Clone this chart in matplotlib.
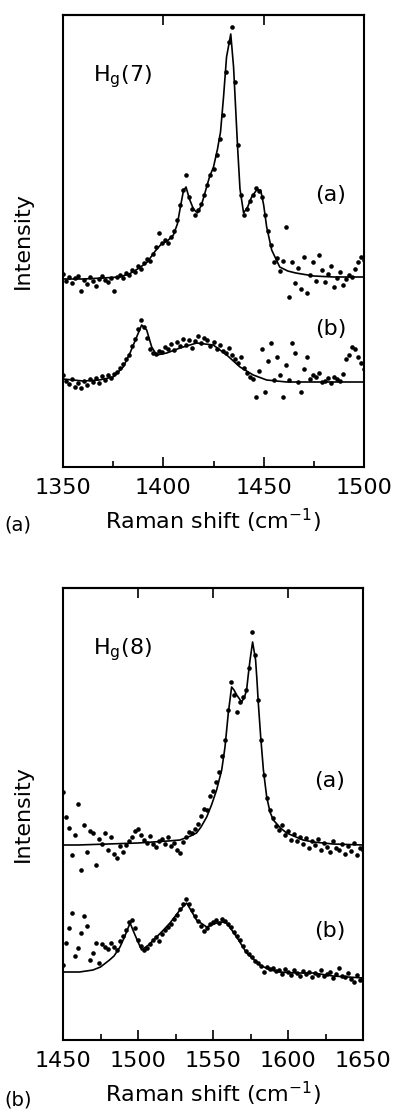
import matplotlib
matplotlib.use("Agg")
import matplotlib.pyplot as plt
from matplotlib.ticker import MultipleLocator, FixedLocator

plt.rcParams['font.family'] = ['DejaVu Sans']
plt.rcParams['mathtext.fontset'] = 'dejavusans'

# ---- H_g(7): measured channels (cm^-1) shared by both spectra ----
hg7_x = [1350.0, 1351.5, 1353.0, 1354.5, 1356.0, 1357.5, 1359.0, 1360.5, 1362.0, 1363.5,
         1365.0, 1366.5, 1368.0, 1369.5, 1371.0, 1372.5, 1374.0, 1375.5, 1377.0, 1378.5,
         1380.0, 1381.5, 1383.0, 1384.5, 1386.0, 1387.5, 1389.0, 1390.5, 1392.0, 1393.5,
         1395.0, 1396.5, 1398.0, 1399.5, 1401.0, 1402.5, 1404.0, 1405.5, 1407.0, 1408.5,
         1410.0, 1411.5, 1413.0, 1414.5, 1416.0, 1417.5, 1419.0, 1420.5, 1422.0, 1423.5,
         1425.0, 1426.5, 1428.0, 1429.5, 1431.0, 1432.5, 1434.0, 1435.5, 1437.0, 1438.5,
         1440.0, 1441.5, 1443.0, 1444.5, 1446.0, 1447.5, 1449.0, 1450.5, 1452.0, 1453.5,
         1455.0, 1456.5, 1458.0, 1459.5, 1461.0, 1462.5, 1464.0, 1465.5, 1467.0, 1468.5,
         1470.0, 1471.5, 1473.0, 1474.5, 1476.0, 1477.5, 1479.0, 1480.5, 1482.0, 1483.5,
         1485.0, 1486.5, 1488.0, 1489.5, 1491.0, 1492.5, 1494.0, 1495.5, 1497.0, 1498.5,
         1500.0]

hg7_a = [193, 186, 190, 184, 189, 191, 176, 187, 183, 190,
         186, 181, 188, 191, 187, 185, 189, 176, 190, 192,
         189, 194, 192, 197, 195, 201, 198, 204, 208, 206,
         213, 220, 234, 224, 227, 224, 230, 236, 247, 262,
         277, 292, 270, 258, 252, 257, 263, 272, 282, 292,
         298, 312, 328, 352, 395, 425, 440, 385, 322, 272,
         252, 258, 266, 272, 279, 276, 270, 252, 236, 222,
         205, 209, 196, 206, 240, 170, 205, 184, 199, 178,
         210, 174, 192, 205, 186, 212, 197, 185, 193, 201,
         180, 189, 195, 182, 188, 192, 190, 198, 205, 210,
         207]

hg7_b = [92, 86, 83, 88, 80, 84, 79, 86, 82, 88,
         85, 89, 84, 91, 87, 92, 89, 93, 95, 99,
         103, 108, 112, 121, 128, 138, 147, 140, 129, 118,
         114, 113, 116, 115, 120, 118, 123, 117, 125, 121,
         128, 122, 127, 119, 126, 131, 124, 129, 127, 121,
         125, 118, 122, 116, 114, 119, 112, 108, 104, 110,
         99, 94, 90, 88, 70, 96, 118, 75, 106, 124,
         87, 110, 92, 70, 102, 87, 124, 114, 85, 75,
         98, 110, 88, 92, 90, 94, 85, 86, 89, 84,
         90, 88, 86, 93, 108, 112, 120, 118, 110, 104,
         98]

# fitted curves for H_g(7)
hg7_fit_a_x = [1350, 1360, 1370, 1378, 1383, 1388, 1392, 1396, 1399, 1402, 1405, 1407,
               1408.5, 1410, 1411.3, 1413, 1415, 1417, 1419, 1421, 1423, 1425, 1427,
               1428.5, 1430, 1431.5, 1433.6, 1435, 1436, 1437, 1438.2, 1440, 1442, 1444,
               1446.5, 1448.5, 1450, 1451.5, 1454, 1458, 1462, 1466, 1475, 1485, 1500]
hg7_fit_a_y = [188, 188, 189, 190, 193, 199, 205, 216, 223, 226, 232, 243,
               260, 276, 280, 268, 258, 254, 262, 276, 290, 300, 318,
               335, 370, 410, 433, 400, 360, 320, 278, 254, 260, 270,
               277, 277, 262, 240, 217, 200, 196, 194, 191, 190, 190]

hg7_fit_b_x = [1350, 1360, 1368, 1375, 1380, 1383.4, 1386.7, 1389.2, 1391.7, 1394.2,
               1396.7, 1401.7, 1408.3, 1416.6, 1424.9, 1431.6, 1438.2, 1444.8, 1451.5,
               1461.5, 1500]
hg7_fit_b_y = [88, 86, 87, 90, 100, 114, 130, 142, 137, 120,
               112, 114, 119, 124, 122, 112, 100, 92, 87,
               85, 85]

# ---- H_g(8): measured channels (cm^-1) ----
hg8_x = [1450, 1452, 1454, 1456, 1458, 1460, 1462, 1464, 1466, 1468,
         1470, 1472, 1474, 1476, 1478, 1480, 1482, 1484, 1486, 1488,
         1490, 1492, 1494, 1496, 1498, 1500, 1502, 1504, 1506, 1508,
         1510, 1512, 1514, 1516, 1518, 1520, 1522, 1524, 1526, 1528,
         1530, 1532, 1534, 1536, 1538, 1540, 1542, 1544, 1546, 1548,
         1550, 1552, 1554, 1556, 1558, 1560, 1562, 1564, 1566, 1568,
         1570, 1572, 1574, 1576, 1578, 1580, 1582, 1584, 1586, 1588,
         1590, 1592, 1594, 1596, 1598, 1600, 1602, 1604, 1606, 1608,
         1610, 1612, 1614, 1616, 1618, 1620, 1622, 1624, 1626, 1628,
         1630, 1632, 1634, 1636, 1638, 1640, 1642, 1644, 1646, 1648,
         1650]

hg8_a = [248, 223, 212, 185, 205, 236, 170, 215, 188, 209,
         207, 175, 201, 196, 207, 190, 203, 186, 182, 194,
         188, 195, 199, 203, 209, 211, 205, 200, 197, 204,
         196, 193, 199, 201, 196, 203, 194, 197, 190, 187,
         198, 203, 208, 207, 211, 216, 224, 231, 230, 244,
         249, 258, 268, 284, 300, 330, 358, 345, 328, 338,
         343, 350, 372, 408, 385, 340, 300, 265, 242, 230,
         222, 214, 210, 215, 205, 209, 200, 206, 199, 203,
         196, 202, 192, 199, 195, 201, 190, 197, 193, 188,
         199, 192, 190, 196, 186, 194, 189, 197, 185, 192,
         190]

hg8_b = [75, 97, 112, 127, 84, 92, 107, 124, 114, 80,
         87, 97, 77, 96, 93, 91, 97, 93, 90, 99,
         104, 110, 118, 120, 112, 100, 94, 90, 92, 96,
         100, 103, 99, 106, 110, 113, 116, 121, 125, 131,
         136, 141, 136, 130, 124, 119, 114, 109, 112, 116,
         118, 120, 117, 121, 119, 116, 113, 108, 104, 100,
         94, 89, 86, 83, 79, 77, 74, 68, 73, 71,
         72, 69, 70, 66, 71, 68, 65, 70, 67, 64,
         69, 66, 68, 63, 67, 65, 70, 64, 66, 68,
         62, 66, 72, 64, 63, 67, 61, 58, 65, 60,
         62]

hg8_fit_a_x = [1450, 1460, 1480, 1500, 1520, 1528, 1535, 1539, 1542, 1545.8, 1549,
               1552.4, 1555.8, 1558, 1560.2, 1562.4, 1564, 1565.8, 1569.1, 1571, 1572.4,
               1573.5, 1574.7, 1576.4, 1578.4, 1579.3, 1580.2, 1581.8, 1583.6, 1585.8,
               1588, 1590.2, 1595, 1599.1, 1610, 1617, 1630, 1650]
hg8_fit_a_y = [195, 195, 196, 197, 199, 200, 204, 207, 213, 223, 235,
               250, 270, 293, 327, 353, 350, 345, 338, 343, 350,
               365, 380, 398, 380, 360, 337, 303, 270, 243,
               228, 220, 212, 207, 200, 198, 196, 195]

hg8_fit_b_x = [1450, 1461, 1470, 1475, 1481, 1484, 1488, 1491, 1494.7, 1498, 1502.4,
               1507, 1512.4, 1517, 1521.3, 1528, 1532.4, 1536, 1539, 1545.8, 1552.4,
               1556, 1559, 1562, 1565.8, 1572.4, 1581.3, 1588, 1594.7, 1605, 1616.9,
               1630, 1650]
hg8_fit_b_y = [68, 68, 70, 73, 80, 84, 93, 103, 117, 105, 90,
               95, 103, 110, 117, 130, 137, 128, 120, 113, 117,
               118, 117, 111, 103, 87, 75, 70, 68, 67, 67,
               64, 62]

W, H = 396, 1117
fig = plt.figure(figsize=(W / 100, H / 100), dpi=100)
ax1 = fig.add_axes([63 / W, 1 - 467 / H, 301 / W, 452 / H])
ax2 = fig.add_axes([63 / W, 1 - 1040 / H, 300 / W, 452 / H])

panels = [
    (ax1, hg7_x, hg7_a, hg7_b, hg7_fit_a_x, hg7_fit_a_y, hg7_fit_b_x, hg7_fit_b_y,
     (1350, 1500), [1400, 1450], 'H$_\\mathregular{g}$(7)', 0.602, 0.305),
    (ax2, hg8_x, hg8_a, hg8_b, hg8_fit_a_x, hg8_fit_a_y, hg8_fit_b_x, hg8_fit_b_y,
     (1450, 1650), [1500, 1550, 1600], 'H$_\\mathregular{g}$(8)', 0.573, 0.241),
]

for (ax, x, ya, yb, fax, fay, fbx, fby, xlim, top_ticks, name, ya_lab, yb_lab) in panels:
    ax.plot(x, ya, 'o', color='black', ms=3.3, mew=0, zorder=3)
    ax.plot(x, yb, 'o', color='black', ms=3.3, mew=0, zorder=3)
    ax.plot(fax, fay, '-', color='black', lw=1.2, zorder=2)
    ax.plot(fbx, fby, '-', color='black', lw=1.2, zorder=2)

    ax.set_xlim(*xlim)
    ax.set_ylim(0, 452)
    ax.set_yticks([])
    ax.xaxis.set_major_locator(MultipleLocator(50))
    ax.xaxis.set_minor_locator(MultipleLocator(25))
    ax.tick_params(axis='x', which='major', direction='in', length=7, width=1.2,
                   labelsize=16, pad=8)
    ax.tick_params(axis='x', which='minor', direction='in', length=4, width=1.2)
    for s in ax.spines.values():
        s.set_linewidth(1.5)

    # major ticks along the top edge as well
    sec = ax.secondary_xaxis('top')
    sec.xaxis.set_major_locator(FixedLocator(top_ticks))
    sec.tick_params(direction='in', length=7, width=1.2, labeltop=False)
    sec.spines['top'].set_linewidth(1.5)

    ax.set_xlabel('Raman shift (cm$^{-1}$)', fontsize=16, labelpad=6)
    ax.set_ylabel('Intensity', fontsize=16)
    ax.yaxis.set_label_coords(-0.10, 0.5)

    ax.text(0.10, 0.852, name, transform=ax.transAxes, fontsize=16,
            ha='left', va='baseline')
    ax.text(0.89, ya_lab, '(a)', transform=ax.transAxes, fontsize=16,
            ha='center', va='center')
    ax.text(0.89, yb_lab, '(b)', transform=ax.transAxes, fontsize=16,
            ha='center', va='center')

fig.text(18 / W, 1 - 525 / H, '(a)', fontsize=14, ha='center', va='center')
fig.text(18 / W, 1 - 1100 / H, '(b)', fontsize=14, ha='center', va='center')

fig.savefig('out.png', dpi=100)
